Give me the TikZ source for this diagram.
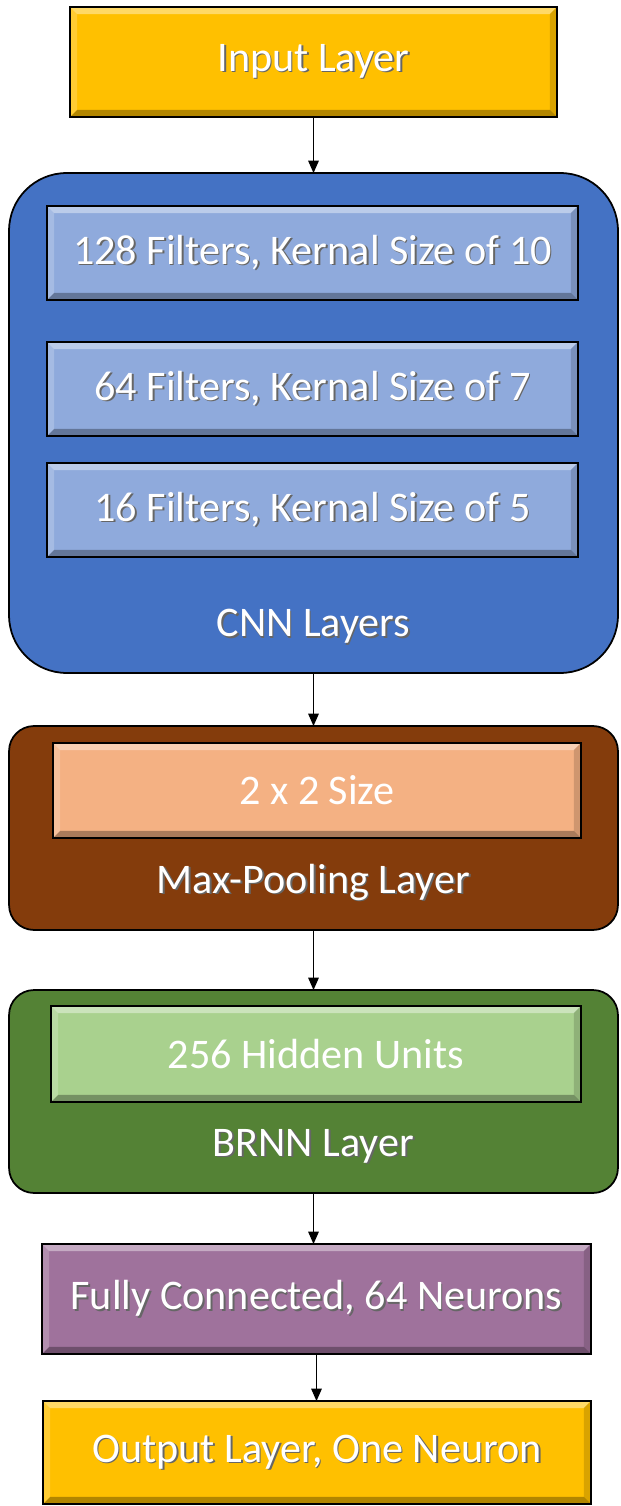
\documentclass[tikz,border=0pt]{standalone}
\usepackage{fontspec}
\setmainfont{Carlito}
\usetikzlibrary{arrows.meta}

\definecolor{gold}{HTML}{FFC000}
\definecolor{cnnblue}{HTML}{4472C4}
\definecolor{filterblue}{HTML}{8FAADC}
\definecolor{poolbrown}{HTML}{843C0C}
\definecolor{poolpeach}{HTML}{F4B183}
\definecolor{rnngreen}{HTML}{548235}
\definecolor{unitgreen}{HTML}{A9D18E}
\definecolor{fcpurple}{HTML}{9F729C}

% white text with a soft drop shadow
\newcommand{\shadowtext}[1]{\rlap{\kern0.9pt\raisebox{-0.9pt}{\color{black!60}#1}}#1}

\tikzset{
  bevel/.style={path picture={
      \fill[white, opacity=0.4] (path picture bounding box.north west) -- (path picture bounding box.north east)
        -- ([shift={(-4pt,-4pt)}]path picture bounding box.north east) -- ([shift={(4pt,-4pt)}]path picture bounding box.north west) -- cycle;
      \fill[white, opacity=0.2] (path picture bounding box.north west) -- ([shift={(4pt,-4pt)}]path picture bounding box.north west)
        -- ([shift={(4pt,4pt)}]path picture bounding box.south west) -- (path picture bounding box.south west) -- cycle;
      \fill[black, opacity=0.3] (path picture bounding box.south west) -- ([shift={(4pt,4pt)}]path picture bounding box.south west)
        -- ([shift={(-4pt,4pt)}]path picture bounding box.south east) -- (path picture bounding box.south east) -- cycle;
      \fill[black, opacity=0.15] (path picture bounding box.north east) -- (path picture bounding box.south east)
        -- ([shift={(-4pt,4pt)}]path picture bounding box.south east) -- ([shift={(-4pt,-4pt)}]path picture bounding box.north east) -- cycle;
  }},
  layerbox/.style={draw=black, line width=1.2pt, bevel, inner sep=0pt, outer sep=0pt, text=white},
  innerbox/.style={draw=black, line width=1pt, bevel, inner sep=0pt, outer sep=0pt, text=white},
  groupbox/.style={draw=black, line width=1pt, inner sep=0pt, outer sep=0pt, minimum width=12.18cm},
  grouplabel/.style={text=white, inner sep=0pt}
}

\begin{document}
\begin{tikzpicture}[x=0.02cm, y=-0.02cm, >={Triangle[length=7pt, width=6pt]},
    font=\fontsize{24}{28}\selectfont]
  \useasboundingbox (0,0) rectangle (620,1506);

  % Input
  \node[layerbox, fill=gold, minimum width=9.74cm, minimum height=2.2cm] (input) at (313.5,62) {\shadowtext{Input Layer}};

  % CNN layers
  \node[groupbox, fill=cnnblue, minimum height=10cm, rounded corners=1.15cm] (cnn) at (313.5,423) {};
  \node[innerbox, fill=filterblue, minimum width=10.62cm, minimum height=1.88cm] (conv1) at (312.5,253) {\shadowtext{128 Filters, Kernal Size of 10}};
  \node[innerbox, fill=filterblue, minimum width=10.62cm, minimum height=1.88cm] (conv2) at (312.5,389) {\shadowtext{64 Filters, Kernal Size of 7}};
  \node[innerbox, fill=filterblue, minimum width=10.62cm, minimum height=1.88cm] (conv3) at (312.5,510) {\shadowtext{16 Filters, Kernal Size of 5}};
  \node[grouplabel] (cnnlabel) at (313.5,627) {\shadowtext{CNN Layers}};

  % Max-pooling
  \node[groupbox, fill=poolbrown, minimum height=4.08cm, rounded corners=0.5cm] (pool) at (313.5,828) {};
  \node[innerbox, fill=poolpeach, minimum width=10.56cm, minimum height=1.9cm] (poolsize) at (317,790.5) {2 x 2 Size};
  \node[grouplabel] (poollabel) at (313.5,883) {\shadowtext{Max-Pooling Layer}};

  % BRNN
  \node[groupbox, fill=rnngreen, minimum height=4.06cm, rounded corners=0.5cm] (brnn) at (313.5,1091.5) {};
  \node[innerbox, fill=unitgreen, minimum width=10.6cm, minimum height=1.92cm] (units) at (316,1054) {256 Hidden Units};
  \node[grouplabel] (brnnlabel) at (313.5,1147) {\shadowtext{BRNN Layer}};

  % Dense + output
  \node[layerbox, fill=fcpurple, minimum width=10.98cm, minimum height=2.2cm] (dense) at (316.5,1299) {\shadowtext{Fully Connected, 64 Neurons}};
  \node[layerbox, fill=gold, minimum width=10.96cm, minimum height=2.06cm] (output) at (317,1452.5) {\shadowtext{Output Layer, One Neuron}};

  % Arrows
  \draw[->, line width=0.6pt] (input.south) -- (input.south |- cnn.north);
  \draw[->, line width=0.6pt] (cnn.south) -- (cnn.south |- pool.north);
  \draw[->, line width=0.6pt] (pool.south) -- (pool.south |- brnn.north);
  \draw[->, line width=0.6pt] (brnn.south) -- (brnn.south |- dense.north);
  \draw[->, line width=0.6pt] (dense.south) -- (dense.south |- output.north);
\end{tikzpicture}
\end{document}
